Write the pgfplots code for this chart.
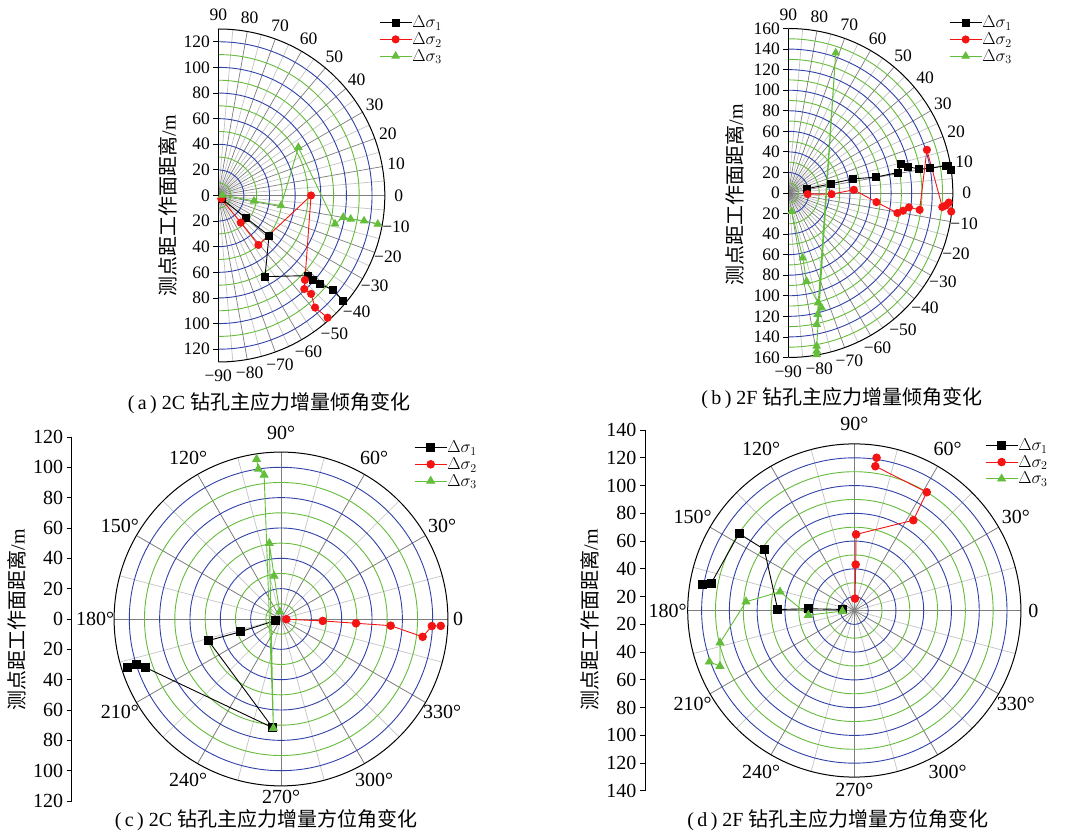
\documentclass[border=0pt]{standalone}
\usepackage{fontspec}
\setmainfont{Liberation Serif}
\newfontfamily\cjk{Noto Sans CJK SC}
\usepackage{pgfplots}
\pgfplotsset{compat=1.18}
\usepgfplotslibrary{polar}
\definecolor{gblue}{RGB}{48,66,168}
\definecolor{ggreen}{RGB}{102,187,60}
\definecolor{sgreen}{RGB}{100,190,60}
\definecolor{sred}{RGB}{245,20,20}
\definecolor{rmaj}{RGB}{125,125,125}
\definecolor{rmin}{RGB}{195,195,195}
\newcommand\fa{\fontsize{17.5}{20}\selectfont}
\newcommand\fc{\fontsize{20}{22}\selectfont}
\newcommand\fl{\fontsize{16.5}{17}\selectfont}
\newcommand\fy{\fontsize{20}{22}\selectfont}
\pgfplotsset{
 polarpanel/.style={
   axis x line=none, axis y line*=left, clip=false,
   tick align=outside, major tick length=5pt,
   ytick style={black, line width=0.8pt},
   axis line style={black, line width=0.9pt},
   yticklabel={\pgfmathparse{abs(\tick)}\pgfmathprintnumber[assume math mode=true]{\pgfmathresult}},
   legend cell align=left,
   legend style={draw=none, fill=none, anchor=north west, inner sep=0pt, row sep=3pt, nodes={inner sep=0.2pt}, font=\fl},
   legend image code/.code={\draw[mark repeat=2,mark phase=2,##1] plot coordinates {(0pt,0pt) (16pt,0pt) (32pt,0pt)};},
 },
 s1/.style={black, line width=0.9pt, mark=square*, mark size=3.5pt, mark options={solid}},
 s2/.style={sred, line width=0.9pt, mark=*, mark size=3.6pt},
 s3/.style={sgreen, line width=0.9pt, mark=triangle*, mark size=4.2pt},
}
\begin{document}
\begin{tikzpicture}
\path[use as bounding box] (0,0) rectangle (1065pt,834pt);

% ================= (a) grid =================
\begin{scope}[shift={(218.3pt,638.5pt)}]
  \foreach \a in {-85,-75,...,85} \draw[rmin, line width=0.7pt] (0,0) -- (\a:166.5pt);
  \foreach \a in {-80,-70,...,80} \draw[rmaj, line width=0.7pt] (0,0) -- (\a:166.5pt);
  \foreach \r in {10,30,...,110} \draw[ggreen, line width=0.9pt] (0pt,{\r*1.281pt}) arc[start angle=90, end angle=-90, radius={\r*1.281pt}];
  \foreach \r in {20,40,...,120} \draw[gblue, line width=0.9pt] (0pt,{\r*1.281pt}) arc[start angle=90, end angle=-90, radius={\r*1.281pt}];
  \draw[black, line width=1pt] (0pt,166.5pt) arc[start angle=90, end angle=-90, radius=166.5pt];
  \foreach \a in {0,10,...,90} \node[font=\fa, inner sep=0pt] at (\a:180.5pt) {\a};
  \foreach \a in {10,20,...,90} \node[font=\fa, inner sep=0pt] at (-\a:180.5pt) {−\a};
\end{scope}

% ================= (b) grid =================
\begin{scope}[shift={(788.3pt,641pt)}]
  \foreach \a in {-85,-75,...,85} \draw[rmin, line width=0.7pt] (0,0) -- (\a:164.5pt);
  \foreach \a in {-80,-70,...,80} \draw[rmaj, line width=0.7pt] (0,0) -- (\a:164.5pt);
  \foreach \r in {10,30,...,150} \draw[ggreen, line width=0.9pt] (0pt,{\r*1.028pt}) arc[start angle=90, end angle=-90, radius={\r*1.028pt}];
  \foreach \r in {20,40,...,140} \draw[gblue, line width=0.9pt] (0pt,{\r*1.028pt}) arc[start angle=90, end angle=-90, radius={\r*1.028pt}];
  \draw[black, line width=1pt] (0pt,164.5pt) arc[start angle=90, end angle=-90, radius=164.5pt];
  \foreach \a in {0,10,...,90} \node[font=\fa, inner sep=0pt] at (\a:178.5pt) {\a};
  \foreach \a in {10,20,...,90} \node[font=\fa, inner sep=0pt] at (-\a:178.5pt) {−\a};
\end{scope}

% ================= (c) grid =================
\begin{scope}[shift={(281pt,215pt)}]
  \foreach \a in {15,45,...,345} \draw[rmin, line width=0.7pt] (0,0) -- (\a:166.9pt);
  \foreach \a in {0,30,...,330} \draw[rmaj, line width=0.8pt] (0,0) -- (\a:166.9pt);
  \foreach \r in {10,30,...,90} \draw[ggreen, line width=0.9pt] (0,0) circle[radius={\r*1.517pt}];
  \foreach \r in {20,40,...,100} \draw[gblue, line width=0.9pt] (0,0) circle[radius={\r*1.517pt}];
  \draw[black, line width=1pt] (0,0) circle[radius=166.9pt];
  \node[font=\fc, inner sep=0pt] at (0:177pt) {0};
  \foreach \a in {30,60,...,240,300,330} \node[font=\fc, inner sep=0pt] at (\a:186pt) {\a°};
  \node[font=\fc, inner sep=0pt] at (270:178pt) {270°};
\end{scope}

% ================= (d) grid =================
\begin{scope}[shift={(854.3pt,223.5pt)}]
  \foreach \a in {15,45,...,345} \draw[rmin, line width=0.7pt] (0,0) -- (\a:166.6pt);
  \foreach \a in {0,30,...,330} \draw[rmaj, line width=0.8pt] (0,0) -- (\a:166.6pt);
  \foreach \r in {20,40,...,100} \draw[ggreen, line width=0.9pt] (0,0) circle[radius={\r*1.388pt}];
  \foreach \r in {10,30,...,110} \draw[gblue, line width=0.9pt] (0,0) circle[radius={\r*1.388pt}];
  \draw[black, line width=1pt] (0,0) circle[radius=166.6pt];
  \node[font=\fc, inner sep=0pt] at (0:179pt) {0};
  \foreach \a in {30,60,...,240,300,330} \node[font=\fc, inner sep=0pt] at (\a:186.6pt) {\a°};
  \node[font=\fc, inner sep=0pt] at (270:179pt) {270°};
\end{scope}

% ================= (a) data =================
\begin{axis}[polarpanel, at={(218.3pt,472pt)}, anchor=south west,
  x=1.281pt, y=1.281pt, xmin=0, xmax=130, ymin=-130, ymax=130,
  ytick={-120,-100,...,120}, yticklabel style={font=\fa},
  legend style={at={(0.965,1.04)}}]
\addplot[s1, data cs=polar] coordinates {(-45,3.5) (-39,27.5) (-38.4,50.5) (-60.1,73.1) (-41.9,93.7) (-41.7,99.2) (-41.1,105.4) (-39.4,116.2) (-40.2,127.7)};
\addplot[s2, data cs=polar] coordinates {(-48,3.5) (-50.5,27.5) (-51,49.7) (0,72.4) (-44.3,94.5) (-47.4,99.2) (-46.7,105.6) (-49.2,115.6) (-48.2,128)};
\addplot[s3, data cs=polar] coordinates {(7,3.2) (-8.8,28.2) (-9.2,49.6) (31,72.9) (-13.7,93.8) (-9.9,99) (-10.1,105) (-9.9,115.5) (-10.2,126.5)};
\legend{$\Delta\sigma_1$,$\Delta\sigma_2$,$\Delta\sigma_3$}
\end{axis}

% ================= (b) data =================
\begin{axis}[polarpanel, at={(788.3pt,476.5pt)}, anchor=south west,
  x=1.028pt, y=1.028pt, xmin=0, xmax=160, ymin=-160, ymax=160,
  ytick={-160,-140,...,160}, yticklabel style={font=\fa},
  legend style={at={(0.977,1.039)}}]
\addplot[s1, data cs=polar] coordinates {(12.9,18.3) (12.2,42.4) (12.3,64.5) (10.3,86.5) (10.6,108.5) (14.3,113.5) (12.5,119.2) (10.4,128.9) (9.9,140.2) (9.8,155.2) (9.7,158) (8.1,160)};
\addplot[s2, data cs=polar] coordinates {(-3.3,18.8) (-1.5,42.1) (2.8,63.8) (-5.9,86.2) (-10.4,107.9) (-8.8,112.9) (-6.8,118.2) (-7.3,128.8) (17.3,141.2) (-5.2,150.4) (-4.6,153.4) (-3.4,156.4) (-6.5,159.5)};
\addplot[s3, data cs=polar] coordinates {(-79.6,18.2) (-77.5,64.7) (-78.3,87.7) (-74.8,110.7) (-73.8,116.3) (-76.4,121.5) (-77.8,130.8) (71.3,143.9) (-79.5,151.4) (-79.8,156.2) (-80,159.5)};
\legend{$\Delta\sigma_1$,$\Delta\sigma_2$,$\Delta\sigma_3$}
\end{axis}

% ================= (c) data =================
\begin{axis}[polarpanel, at={(71.7pt,33pt)}, anchor=south west,
  x=1.517pt, y=1.517pt, xmin=-138, xmax=110, ymin=-120, ymax=120,
  ytick={-120,-100,...,120}, yticklabel style={font=\fc},
  s1/.append style={mark size=4pt}, s2/.append style={mark size=3.8pt}, s3/.append style={mark size=4.5pt},
  legend style={at={(0.910,0.99)}}]
\addplot[s1, data cs=polar] coordinates {(196,4.1) (197.5,27.9) (196.6,50) (265.6,71.9) (199.6,95.1) (197.4,100.1) (197.5,105.9)};
\addplot[s2, data cs=polar] coordinates {(-3,3.5) (-2.7,27.5) (-3.3,49.5) (-3.5,72.4) (-7.2,94.1) (-2.7,99.5) (-2.5,105.4)};
\addplot[s3, data cs=polar] coordinates {(100,4.8) (99.2,28.7) (98.8,50.5) (266,72.2) (96.7,95.6) (98.6,100) (98.7,106.5)};
\legend{$\Delta\sigma_1$,$\Delta\sigma_2$,$\Delta\sigma_3$}
\end{axis}

% ================= (d) data =================
\begin{axis}[polarpanel, at={(645pt,43.1pt)}, anchor=south west,
  x=1.388pt, y=1.388pt, xmin=-150.8, xmax=120, ymin=-130, ymax=130,
  ytick={-130,-110,-90,-70,-50,-30,-10,10,30,50,70,90,110,130},
  yticklabel={\pgfmathparse{abs(\tick)+10}\pgfmathprintnumber[assume math mode=true]{\pgfmathresult}},
  yticklabel style={font=\fc},
  s1/.append style={mark size=4pt}, s2/.append style={mark size=3.8pt}, s3/.append style={mark size=4.5pt},
  legend style={at={(0.9045,0.977)}}]
\addplot[s1, data cs=polar] table[row sep=\\, x=a, y expr=\thisrow{r}-10] {a r\\ 175 18.6\\ 177.9 43.1\\ 179.3 65.2\\ 145.9 88.3\\ 146.3 109.9\\ 169.3 115.0\\ 170.3 121.1\\};
\addplot[s2, data cs=polar] table[row sep=\\, x=a, y expr=\thisrow{r}-10] {a r\\ 86.7 18.6\\ 88.3 43.1\\ 88.7 64.8\\ 56.8 87.7\\ 58.5 109.9\\ 81.7 115.0\\ 81.7 121.2\\};
\addplot[s3, data cs=polar] table[row sep=\\, x=a, y expr=\thisrow{r}-10] {a r\\ 183.3 18.6\\ 185.8 43.3\\ 165.9 65.2\\ 175.4 88.3\\ 193.5 109.5\\ 202.5 114.8\\ 199.5 120.8\\};
\legend{$\Delta\sigma_1$,$\Delta\sigma_2$,$\Delta\sigma_3$}
\end{axis}

% ================= labels and captions =================
\node[rotate=90, font=\fy] at (168pt,628pt) {{\cjk 测点距工作面距离}/m};
\node[rotate=90, font=\fy] at (735pt,639pt) {{\cjk 测点距工作面距离}/m};
\node[rotate=90, font=\fy] at (17pt,214pt) {{\cjk 测点距工作面距离}/m};
\node[rotate=90, font=\fy] at (590pt,214pt) {{\cjk 测点距工作面距离}/m};
\node[font=\fy] at (269pt,431pt) {(\,a\,)\hspace{5pt}2C\hspace{5pt}{\cjk 钻孔主应力增量倾角变化}};
\node[font=\fy] at (842pt,436pt) {(\,b\,)\hspace{5pt}2F\hspace{5pt}{\cjk 钻孔主应力增量倾角变化}};
\node[font=\fy] at (266pt,14pt) {(\,c\,)\hspace{5pt}2C\hspace{5pt}{\cjk 钻孔主应力增量方位角变化}};
\node[font=\fy] at (838pt,14pt) {(\,d\,)\hspace{5pt}2F\hspace{5pt}{\cjk 钻孔主应力增量方位角变化}};
\end{tikzpicture}
\end{document}
